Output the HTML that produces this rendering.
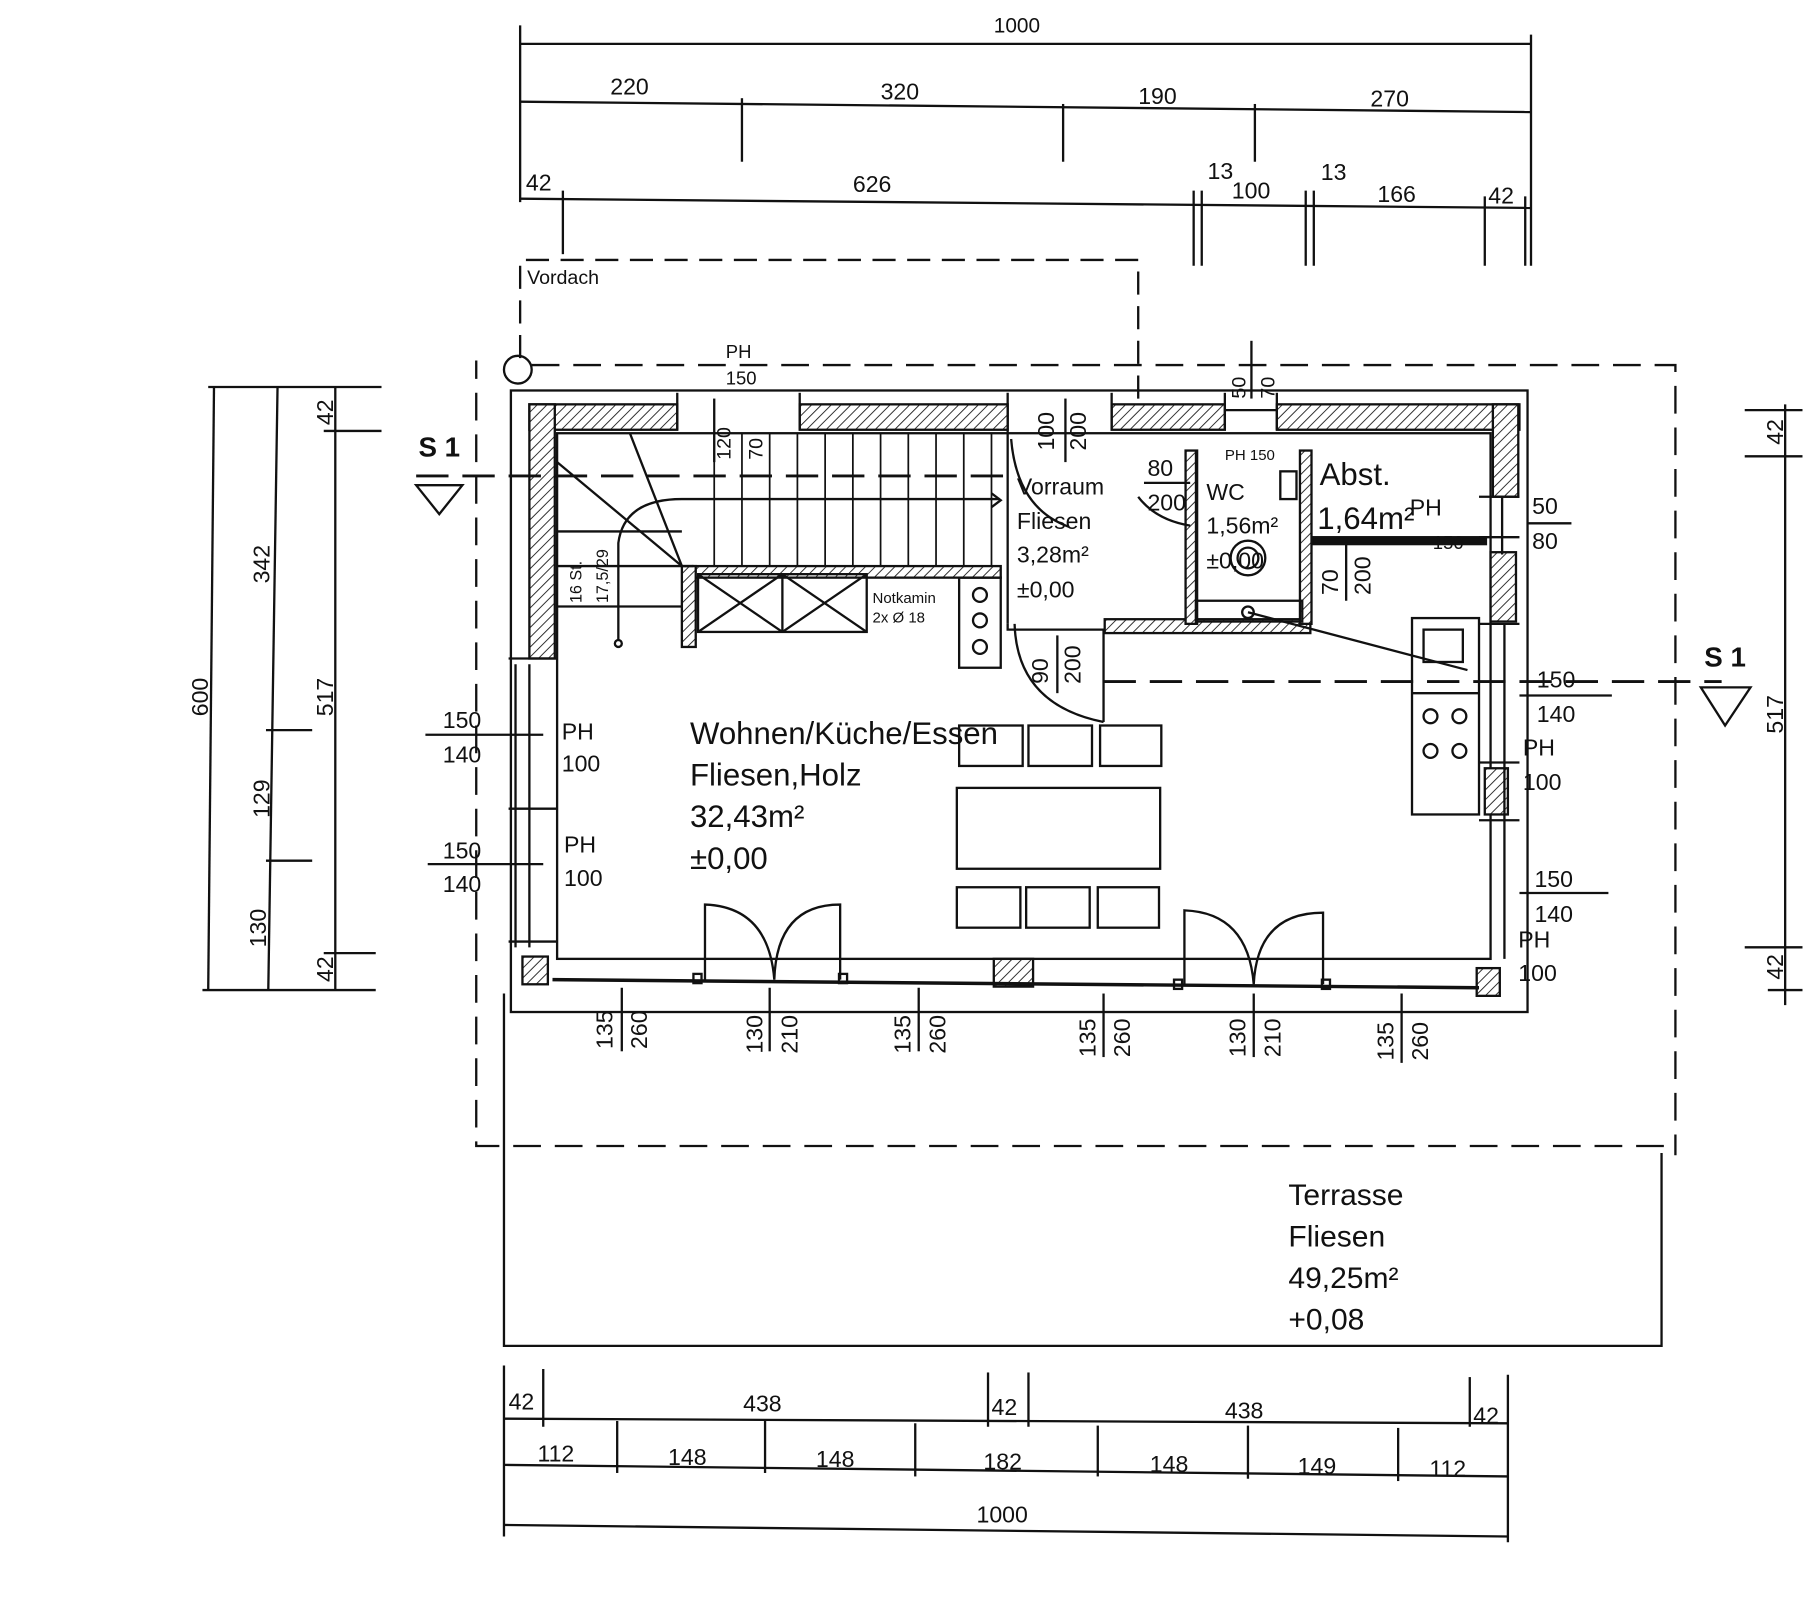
<!DOCTYPE html>
<html><head><meta charset="utf-8"><style>
html,body{margin:0;padding:0;background:#fff}
svg{display:block}
text{font-family:"Liberation Sans",sans-serif;fill:#111}
</style></head><body>
<svg width="1812" height="1622" viewBox="0 0 1568 1404" xmlns="http://www.w3.org/2000/svg">
<defs>
<pattern id="h" width="6" height="6" patternUnits="userSpaceOnUse" patternTransform="rotate(45)">
<rect width="6" height="6" fill="#fff"/><line x1="0" y1="0" x2="0" y2="6" stroke="#222" stroke-width="1.6"/></pattern>
</defs>
<g stroke="#111" fill="none" stroke-width="2">
<!-- top dims -->
<line x1="450" y1="38" x2="1325" y2="38"/>
<line x1="450" y1="22" x2="450" y2="175"/><line x1="1325" y1="30" x2="1325" y2="230"/>
<line x1="450" y1="88" x2="1325" y2="97"/>
<line x1="642" y1="85" x2="642" y2="140"/><line x1="920" y1="90" x2="920" y2="140"/><line x1="1086" y1="90" x2="1086" y2="140"/>
<line x1="450" y1="172" x2="1325" y2="180"/>
<line x1="487" y1="165" x2="487" y2="220"/><line x1="1033" y1="165" x2="1033" y2="230"/><line x1="1040" y1="165" x2="1040" y2="230"/>
<line x1="1130" y1="165" x2="1130" y2="230"/><line x1="1137" y1="165" x2="1137" y2="230"/><line x1="1285" y1="170" x2="1285" y2="230"/><line x1="1320" y1="170" x2="1320" y2="230"/>
<!-- vordach dashed -->
<path d="M450 310 V225 H985 V345" stroke-dasharray="20 10"/>
<circle cx="448" cy="320" r="12"/>
<path d="M460 316 H1450 V1000 M1440 992 H412 V312" stroke-dasharray="24 12"/>
<line x1="1083" y1="295" x2="1083" y2="345"/>
<!-- terrace -->
<path d="M436 860 V1165 H1438 V998"/>
<!-- building outline -->
<rect x="442" y="338" width="880" height="538" stroke-width="2"/>
<rect x="482" y="375" width="808" height="455"/>
</g>
<!-- hatched walls -->
<g fill="url(#h)" stroke="#111" stroke-width="2">
<rect x="458" y="350" width="128" height="22"/>
<rect x="692" y="350" width="180" height="22"/>
<rect x="962" y="350" width="98" height="22"/>
<rect x="1105" y="350" width="210" height="22"/>
<rect x="458" y="350" width="22" height="220"/>
<rect x="1292" y="350" width="22" height="80"/>
<rect x="1290" y="478" width="22" height="60"/>
<rect x="1285" y="665" width="20" height="40"/>
<rect x="600" y="490" width="266" height="10"/>
<rect x="590" y="490" width="12" height="70"/>
<rect x="956" y="536" width="178" height="12"/>
<rect x="1026" y="390" width="10" height="150"/>
<rect x="1125" y="390" width="10" height="150"/>
<rect x="452" y="828" width="22" height="24"/>
<rect x="860" y="830" width="34" height="24"/>
<rect x="1278" y="838" width="20" height="24"/>
</g>
<g stroke="#111" fill="none" stroke-width="2">
<!-- windows lines -->
<line x1="586" y1="340" x2="586" y2="372"/><line x1="692" y1="340" x2="692" y2="372"/>
<line x1="872" y1="340" x2="872" y2="540"/><line x1="962" y1="340" x2="962" y2="372"/>
<line x1="1060" y1="340" x2="1060" y2="372"/><line x1="1105" y1="340" x2="1105" y2="372"/>
<line x1="1060" y1="355" x2="1105" y2="355"/>
<line x1="446" y1="575" x2="446" y2="820"/><line x1="458" y1="575" x2="458" y2="820"/>
<line x1="440" y1="570" x2="482" y2="570"/><line x1="440" y1="700" x2="482" y2="700"/><line x1="440" y1="815" x2="482" y2="815"/>
<line x1="1300" y1="430" x2="1300" y2="480"/><line x1="1280" y1="430" x2="1315" y2="430"/><line x1="1280" y1="465" x2="1315" y2="465"/>
<line x1="1302" y1="540" x2="1302" y2="830"/><line x1="1280" y1="540" x2="1315" y2="540"/><line x1="1280" y1="660" x2="1315" y2="660"/><line x1="1280" y1="710" x2="1315" y2="710"/>
<line x1="478" y1="848" x2="1280" y2="855" stroke-width="3"/>
<!-- stairs -->
<line x1="482" y1="490" x2="600" y2="490"/>
<line x1="482" y1="525" x2="590" y2="525"/>
<line x1="482" y1="460" x2="590" y2="460"/>
<line x1="482" y1="400" x2="590" y2="490"/>
<line x1="545" y1="375" x2="590" y2="490"/>
<g stroke-width="1.5">
<line x1="618" y1="375" x2="618" y2="490"/><line x1="642" y1="375" x2="642" y2="490"/><line x1="666" y1="375" x2="666" y2="490"/>
<line x1="690" y1="375" x2="690" y2="490"/><line x1="714" y1="375" x2="714" y2="490"/><line x1="738" y1="375" x2="738" y2="490"/>
<line x1="762" y1="375" x2="762" y2="490"/><line x1="786" y1="375" x2="786" y2="490"/><line x1="810" y1="375" x2="810" y2="490"/>
<line x1="834" y1="375" x2="834" y2="490"/><line x1="858" y1="375" x2="858" y2="490"/>
</g>
<path d="M535 555 V470 Q540 432 590 432 H865"/>
<path d="M858 427 L866 433 L858 439"/>
<circle cx="535" cy="557" r="3"/>
<!-- S1 cut line -->
<path d="M360 412 H880" stroke-dasharray="28 12" stroke-width="2.5"/>
<path d="M955 590 H1490" stroke-dasharray="28 12" stroke-width="2.5"/>
<path d="M360 420 H400 L380 445 Z"/><path d="M1472 595 H1515 L1493 628 Z"/>
<!-- chimney -->
<rect x="604" y="497" width="146" height="50"/>
<path d="M604 497 L677 547 M677 497 L604 547 M677 497 L750 547 M750 497 L677 547 M677 497 V547"/>
<rect x="830" y="500" width="36" height="78"/>
<circle cx="848" cy="515" r="6"/><circle cx="848" cy="537" r="6"/><circle cx="848" cy="560" r="6"/>
<!-- doors -->
<path d="M872 540 V545 H956"/>
<path d="M878 540 Q880 610 955 625" /><line x1="955" y1="545" x2="955" y2="625"/>
<path d="M875 380 Q880 440 925 456"/>
<path d="M985 430 Q1000 450 1030 455"/><line x1="1035" y1="390" x2="1035" y2="540"/>
<rect x="1035" y="520" width="92" height="18"/>
<line x1="1080" y1="530" x2="1270" y2="580"/><circle cx="1080" cy="530" r="5"/>
<circle cx="1080" cy="483" r="15"/><circle cx="1080" cy="483" r="9"/>
<rect x="1108" y="408" width="14" height="24"/>
<rect x="1136" y="465" width="150" height="6" fill="#111"/>
<!-- kitchen -->
<rect x="1222" y="535" width="58" height="170"/>
<line x1="1222" y1="600" x2="1280" y2="600"/><rect x="1232" y="545" width="34" height="28"/>
<circle cx="1238" cy="620" r="6"/><circle cx="1263" cy="620" r="6"/><circle cx="1238" cy="650" r="6"/><circle cx="1263" cy="650" r="6"/>
<!-- furniture -->
<rect x="830" y="628" width="55" height="35"/><rect x="890" y="628" width="55" height="35"/><rect x="952" y="628" width="53" height="35"/>
<rect x="828" y="682" width="176" height="70"/>
<rect x="828" y="768" width="55" height="35"/><rect x="888" y="768" width="55" height="35"/><rect x="950" y="768" width="53" height="35"/>
<!-- terrace doors -->
<path d="M610 848 V783 Q665 785 670 848 Q672 783 727 783 V848"/>
<path d="M1025 852 V788 Q1080 790 1085 852 Q1088 790 1145 790 V852"/>
<rect x="600" y="843" width="7" height="8"/><rect x="726" y="843" width="7" height="8"/>
<rect x="1016" y="848" width="7" height="8"/><rect x="1144" y="848" width="7" height="8"/>
<!-- opening dims -->
<line x1="538" y1="855" x2="538" y2="910"/><line x1="666" y1="855" x2="666" y2="910"/><line x1="795" y1="855" x2="795" y2="910"/>
<line x1="955" y1="860" x2="955" y2="915"/><line x1="1085" y1="860" x2="1085" y2="915"/><line x1="1213" y1="860" x2="1213" y2="920"/>
<line x1="618" y1="345" x2="618" y2="400"/><line x1="922" y1="345" x2="922" y2="400"/><line x1="915" y1="550" x2="915" y2="600"/><line x1="1165" y1="470" x2="1165" y2="520"/>
<line x1="990" y1="418" x2="1030" y2="418"/><line x1="1322" y1="453" x2="1360" y2="453"/>
<!-- left/right dim leaders -->
<line x1="368" y1="636" x2="470" y2="636"/><line x1="370" y1="748" x2="470" y2="748"/>
<line x1="1315" y1="602" x2="1395" y2="602"/><line x1="1315" y1="773" x2="1392" y2="773"/>
<!-- left dims -->
<line x1="185" y1="335" x2="180" y2="857"/>
<line x1="240" y1="335" x2="232" y2="857"/>
<line x1="290" y1="335" x2="290" y2="857"/>
<line x1="180" y1="335" x2="330" y2="335"/><line x1="280" y1="373" x2="330" y2="373"/>
<line x1="230" y1="632" x2="270" y2="632"/><line x1="230" y1="745" x2="270" y2="745"/>
<line x1="280" y1="825" x2="325" y2="825"/><line x1="175" y1="857" x2="325" y2="857"/>
<!-- right dims -->
<line x1="1545" y1="350" x2="1545" y2="870"/>
<line x1="1510" y1="355" x2="1560" y2="355"/><line x1="1510" y1="395" x2="1560" y2="395"/>
<line x1="1510" y1="820" x2="1560" y2="820"/><line x1="1530" y1="857" x2="1560" y2="857"/>
<!-- bottom dims -->
<line x1="436" y1="1228" x2="1305" y2="1232"/>
<line x1="436" y1="1182" x2="436" y2="1330"/><line x1="470" y1="1185" x2="470" y2="1235"/><line x1="855" y1="1188" x2="855" y2="1235"/>
<line x1="890" y1="1188" x2="890" y2="1235"/><line x1="1272" y1="1192" x2="1272" y2="1235"/><line x1="1305" y1="1190" x2="1305" y2="1335"/>
<line x1="436" y1="1268" x2="1305" y2="1278"/>
<line x1="534" y1="1230" x2="534" y2="1275"/><line x1="662" y1="1230" x2="662" y2="1275"/><line x1="792" y1="1232" x2="792" y2="1278"/>
<line x1="950" y1="1234" x2="950" y2="1278"/><line x1="1080" y1="1234" x2="1080" y2="1280"/><line x1="1210" y1="1236" x2="1210" y2="1282"/>
<line x1="436" y1="1320" x2="1305" y2="1330"/>
</g>
<g font-size="20">
<text x="860" y="28" font-size="18">1000</text>
<text x="528" y="82">220</text><text x="762" y="86">320</text><text x="985" y="90">190</text><text x="1186" y="92">270</text>
<text x="455" y="165">42</text><text x="738" y="166">626</text><text x="1045" y="155">13</text><text x="1066" y="172">100</text>
<text x="1143" y="156">13</text><text x="1192" y="175">166</text><text x="1288" y="176">42</text>
<text x="456" y="246" font-size="17">Vordach</text>
<text x="628" y="310" font-size="16">PH</text><text x="628" y="333" font-size="16">150</text>
<text x="362" y="395" font-size="24" font-weight="bold">S 1</text>
<text x="1475" y="577" font-size="24" font-weight="bold">S 1</text>
<text x="880" y="428">Vorraum</text><text x="880" y="458">Fliesen</text><text x="880" y="487">3,28m²</text><text x="880" y="517">±0,00</text>
<text x="993" y="412">80</text><text x="993" y="442">200</text>
<text x="1044" y="433">WC</text><text x="1044" y="462">1,56m²</text><text x="1044" y="492">±0,00</text>
<text x="1060" y="398" font-size="13">PH 150</text>
<text x="1142" y="420" font-size="27">Abst.</text><text x="1140" y="458" font-size="27">1,64m²</text>
<text x="1220" y="446">PH</text><text x="1240" y="475" font-size="16">150</text>
<text x="1326" y="445">50</text><text x="1326" y="475">80</text>
<text x="755" y="522" font-size="13">Notkamin</text><text x="755" y="539" font-size="13">2x Ø 18</text>
<text x="597" y="644" font-size="27">Wohnen/Küche/Essen</text>
<text x="597" y="680" font-size="27">Fliesen,Holz</text>
<text x="597" y="716" font-size="27">32,43m²</text>
<text x="597" y="752" font-size="27">±0,00</text>
<text x="486" y="640">PH</text><text x="486" y="668">100</text>
<text x="488" y="738">PH</text><text x="488" y="767">100</text>
<text x="383" y="630">150</text><text x="383" y="660">140</text>
<text x="383" y="743">150</text><text x="383" y="772">140</text>
<text x="1330" y="595">150</text><text x="1330" y="625">140</text>
<text x="1318" y="654">PH</text><text x="1318" y="684">100</text>
<text x="1328" y="768">150</text><text x="1328" y="798">140</text>
<text x="1314" y="820">PH</text><text x="1314" y="849">100</text>
<text x="1115" y="1043" font-size="26">Terrasse</text><text x="1115" y="1079" font-size="26">Fliesen</text>
<text x="1115" y="1115" font-size="26">49,25m²</text><text x="1115" y="1151" font-size="26">+0,08</text>
<text x="440" y="1220">42</text><text x="643" y="1222">438</text><text x="858" y="1225">42</text><text x="1060" y="1228">438</text><text x="1275" y="1232">42</text>
<text x="465" y="1265">112</text><text x="578" y="1268">148</text><text x="706" y="1270">148</text><text x="851" y="1272">182</text>
<text x="995" y="1274">148</text><text x="1123" y="1276">149</text><text x="1237" y="1278">112</text>
<text x="845" y="1318">1000</text>
</g>
<g font-size="20">
<text transform="translate(180,620) rotate(-90)">600</text>
<text transform="translate(233,505) rotate(-90)">342</text>
<text transform="translate(233,708) rotate(-90)">129</text>
<text transform="translate(230,820) rotate(-90)">130</text>
<text transform="translate(288,368) rotate(-90)">42</text>
<text transform="translate(288,620) rotate(-90)">517</text>
<text transform="translate(288,850) rotate(-90)">42</text>
<text transform="translate(1543,385) rotate(-90)">42</text>
<text transform="translate(1543,635) rotate(-90)">517</text>
<text transform="translate(1543,848) rotate(-90)">42</text>
<text transform="translate(1078,345) rotate(-90)" font-size="17">50</text>
<text transform="translate(1103,345) rotate(-90)" font-size="17">70</text>
<text transform="translate(632,398) rotate(-90)" font-size="17">120</text>
<text transform="translate(660,398) rotate(-90)" font-size="17">70</text>
<text transform="translate(912,390) rotate(-90)">100</text>
<text transform="translate(940,390) rotate(-90)">200</text>
<text transform="translate(907,592) rotate(-90)">90</text>
<text transform="translate(935,592) rotate(-90)">200</text>
<text transform="translate(1158,515) rotate(-90)">70</text>
<text transform="translate(1186,515) rotate(-90)">200</text>
<text transform="translate(503,522) rotate(-90)" font-size="14">16 St.</text>
<text transform="translate(526,522) rotate(-90)" font-size="14">17,5/29</text>
<g font-size="20">
<text transform="translate(530,908) rotate(-90)">135</text><text transform="translate(560,908) rotate(-90)">260</text>
<text transform="translate(660,912) rotate(-90)">130</text><text transform="translate(690,912) rotate(-90)">210</text>
<text transform="translate(788,912) rotate(-90)">135</text><text transform="translate(818,912) rotate(-90)">260</text>
<text transform="translate(948,915) rotate(-90)">135</text><text transform="translate(978,915) rotate(-90)">260</text>
<text transform="translate(1078,915) rotate(-90)">130</text><text transform="translate(1108,915) rotate(-90)">210</text>
<text transform="translate(1206,918) rotate(-90)">135</text><text transform="translate(1236,918) rotate(-90)">260</text>
</g>
</g>
</svg>
</body></html>
